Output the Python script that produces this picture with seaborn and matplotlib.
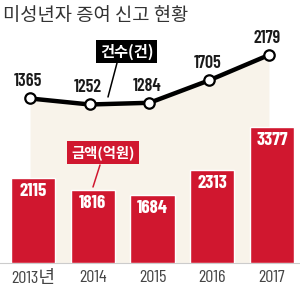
import numpy as np
import pandas as pd
import matplotlib.pyplot as plt
from matplotlib.lines import Line2D
import seaborn as sns

years = ['2013년', '2014', '2015', '2016', '2017']
counts = [1365, 1252, 1284, 1705, 2179]    # 건수(건)
amounts = [2115, 1816, 1684, 2313, 3377]   # 금액(억원)

RED = '#d0172f'
BEIGE = '#f8f3ea'
NARROW = ['Barlow Condensed', 'Noto Sans CJK KR']
KR = ['Noto Sans CJK KR', 'DejaVu Sans']

sns.set_style('white')
plt.rcParams['font.family'] = KR

df = pd.DataFrame({'year': years, 'count': counts, 'amount': amounts})

W, H = 300, 289


def px(x, y):
    # pixel position (from top-left) -> figure fraction
    return x / W, 1 - y / H


fig = plt.figure(figsize=(W / 100, H / 100), dpi=100)
ax = fig.add_axes([0, 26 / H, 1, 233 / H])
ax2 = ax.twinx()

xs = np.arange(len(years))
xl = xs - 0.05
line_lo, line_hi = -1716, 2647

# beige area under the count line + the line itself (back axes)
ax.fill_between(xl, counts, line_lo, color=BEIGE, lw=0, zorder=0)
sns.lineplot(x=xl, y=counts, ax=ax, color='black', lw=3.2, marker='o',
             markersize=7.5, markerfacecolor='white', markeredgecolor='black',
             markeredgewidth=1.6, zorder=5)
for x, v in zip(xl, counts):
    ax.annotate(str(v), (x, v), xytext=(-1.5, 12), textcoords='offset points',
                ha='center', va='center', fontsize=13, color='#1a1a1a',
                family=NARROW, fontweight='semibold')

# amount bars (front axes)
sns.barplot(data=df, x='year', y='amount', ax=ax2, color=RED, saturation=1,
            width=0.74)
for x, v in zip(xs, amounts):
    ax2.annotate(str(v), (x, v), xytext=(0, -9.5), textcoords='offset points',
                 ha='center', va='center', fontsize=13.5, color='white',
                 fontweight='bold', family=NARROW)

ax.set_xlim(-0.553, 4.47)
ax.set_ylim(line_lo, line_hi)
ax2.set_ylim(0, 5796)
ax.set_xticks(xs, years)
ax.tick_params(axis='x', length=0, pad=5, labelsize=13, labelcolor='#444444')
for lab in ax.get_xticklabels():
    lab.set_family(NARROW)
ax.set_yticks([])
ax2.set_yticks([])
ax.set_xlabel('')
ax.set_ylabel('')
ax2.set_ylabel('')
for a in (ax, ax2):
    for s in a.spines.values():
        s.set_visible(False)
ax.spines['bottom'].set_visible(True)
ax.spines['bottom'].set_color('#cccccc')

# title
fig.text(*px(3, 16), '미성년자 증여 신고 현황', fontsize=13.5, color='#333333',
         ha='left', va='center')

# callout boxes
fig.text(*px(126.5, 51.5), '건수(건)', fontsize=11, color='white',
         fontweight='bold', ha='center', va='center',
         bbox=dict(boxstyle='square,pad=0.25', fc='black', ec='none'))
x0, y0 = px(117, 63)
x1, y1 = px(108, 97)
fig.add_artist(Line2D([x0, x1], [y0, y1], color='black', lw=1.1))

fig.text(*px(103, 152.5), '금액(억원)', fontsize=10.3, color='white',
         fontweight='bold', ha='center', va='center',
         bbox=dict(boxstyle='square,pad=0.3', fc=RED, ec='none'))
x0, y0 = px(100, 165)
x1, y1 = px(93, 187)
fig.add_artist(Line2D([x0, x1], [y0, y1], color=RED, lw=1.1))

fig.savefig('out.png', dpi=100)
